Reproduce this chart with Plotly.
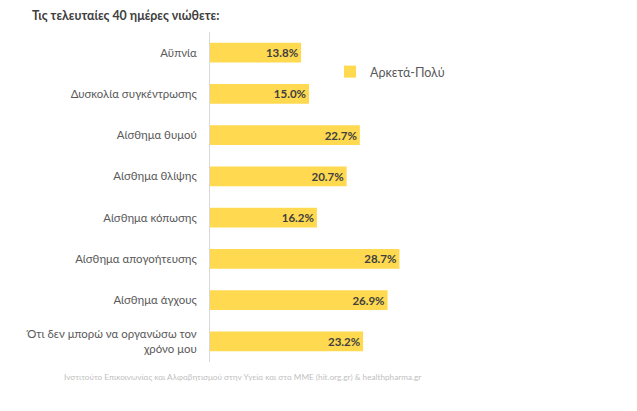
import plotly.graph_objects as go

categories = ["Αϋπνία", "Δυσκολία συγκέντρωσης", "Αίσθημα θυμού", "Αίσθημα θλίψης",
              "Αίσθημα κόπωσης", "Αίσθημα απογοήτευσης", "Αίσθημα άγχους",
              "Ότι δεν μπορώ να οργανώσω τον<br>χρόνο μου"]
values = [13.8, 15.0, 22.7, 20.7, 16.2, 28.7, 26.9, 23.2]
series_name = "Αρκετά-Πολύ"

W, H = 637, 411
L, R, T, B = 210, 637 - 474, 32, 411 - 362

fig = go.Figure()
fig.add_trace(go.Bar(
    y=categories, x=values, orientation="h", name=series_name,
    marker=dict(color="#FFD94F", line=dict(width=0)),
    width=0.48,
    text=[f"{v:.1f}%" for v in values], textposition="inside",
    insidetextanchor="end",
    textfont=dict(family="Lato, Open Sans, sans-serif", size=11.5, color="#404040", weight="bold"),
    showlegend=True,
))

fig.update_layout(
    width=W, height=H,
    margin=dict(l=L, r=R, t=T, b=B),
    paper_bgcolor="white", plot_bgcolor="white",
    font=dict(family="Lato, Open Sans, sans-serif", color="#595959", size=12),
    xaxis=dict(range=[0, 40], showgrid=False, zeroline=False, showticklabels=False,
               showline=False, fixedrange=True),
    yaxis=dict(autorange=False, range=[7.5, -0.5], showgrid=False, zeroline=False,
               showline=True, linecolor="#D9D9D9", linewidth=1, ticks="", ticklabelstandoff=10,
               tickfont=dict(size=11.4, color="#595959")),
    bargap=0.5,
    legend=dict(x=(330 - L) / (W - L - R), y=1 - (72 - T) / (H - T - B), xanchor="left", yanchor="middle",
                font=dict(size=12.5, color="#595959"), bgcolor="rgba(0,0,0,0)",
                itemwidth=30, traceorder="normal"),
    annotations=[
        dict(text="<b>Τις τελευταίες 40 ημέρες νιώθετε:</b>", xref="paper", yref="paper",
             x=-(L - 30) / (W - L - R), y=1 + (T - 15) / (H - T - B), xanchor="left", yanchor="middle",
             showarrow=False, font=dict(size=12.4, color="#404040")),
        dict(text="Ινστιτούτο Επικοινωνίας και Αλφαβητισμού στην Υγεία και στα ΜΜΕ (hit.org.gr) & healthpharma.gr",
             xref="paper", yref="paper",
             x=-(L - 62) / (W - L - R), y=-(377 - (H - B)) / (H - T - B), xanchor="left", yanchor="middle",
             showarrow=False, font=dict(size=8.2, color="#BFBFBF")),
    ],
)

fig.write_html("out.html")
